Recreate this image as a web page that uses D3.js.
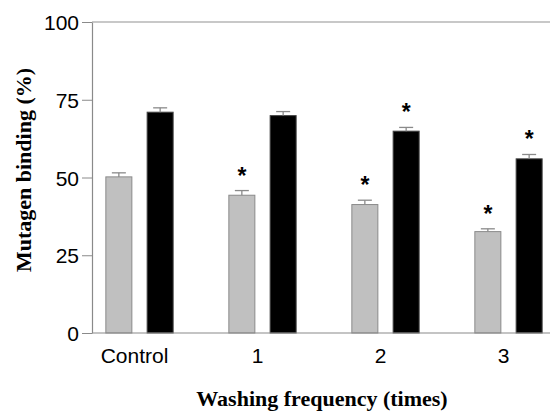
<!DOCTYPE html>
<html>
<head>
<meta charset="utf-8">
<script src="https://cdn.jsdelivr.net/npm/d3@7"></script>
<style>
  html, body { margin: 0; padding: 0; background: #fff; }
  svg { display: block; }
</style>
</head>
<body>
<svg id="chart" width="550" height="412"></svg>
<script>
// ---- data ----
const categories = ["Control", "1", "2", "3"];
const seriesNames = ["gray", "black"];
const grayValues = [50.2, 44.3, 41.3, 32.6];
const grayErrors = [1.3, 1.5, 1.4, 0.9];
const graySignificant = [false, true, true, true];
const blackValues = [71.0, 69.9, 64.9, 56.0];
const blackErrors = [1.4, 1.3, 1.2, 1.4];
const blackSignificant = [false, false, true, true];
const yTicks = [0, 25, 50, 75, 100];

// ---- layout ----
const svg = d3.select("#chart");
const mLeft = 92, mRight = 550, mTop = 22, mBottom = 333;

const y = d3.scaleLinear().domain([0, 100]).range([mBottom, mTop]);
const x0 = d3.scaleBand().domain(categories).range([78, 570]).paddingInner(0).paddingOuter(0);
const x1 = d3.scaleBand().domain(seriesNames).range([-34.15, 34.15]).paddingInner(0.346).paddingOuter(0);

const styles = {
  gray: { fill: "#c0c0c0", stroke: "#8a8a8a" },
  black: { fill: "#000000", stroke: "#444444" }
};

const rows = [];
categories.forEach((c, i) => {
  rows.push({ cat: c, s: "gray", v: grayValues[i], e: grayErrors[i], sig: graySignificant[i] });
  rows.push({ cat: c, s: "black", v: blackValues[i], e: blackErrors[i], sig: blackSignificant[i] });
});

// frame line at top
svg.append("line").attr("x1", mLeft).attr("x2", mRight).attr("y1", mTop).attr("y2", mTop)
  .attr("stroke", "#c8c8c8").attr("stroke-width", 2);

// y axis
const yAxis = svg.append("g").attr("transform", `translate(${mLeft},0)`)
  .call(d3.axisLeft(y).tickValues(yTicks).tickSize(10).tickPadding(3).tickSizeOuter(0));
yAxis.select(".domain").attr("stroke", "#8a8a8a").attr("stroke-width", 1.2);
yAxis.selectAll(".tick line").attr("stroke", "#8a8a8a");
yAxis.selectAll(".tick text").attr("fill", "#000").attr("font-family", "Liberation Sans, Arial, sans-serif")
  .attr("font-size", 21).attr("dy", "0.36em");

// bars
const bx = d => x0(d.cat) + x0.bandwidth() / 2 + x1(d.s);
svg.append("g").selectAll("rect").data(rows).join("rect")
  .attr("x", d => bx(d) + 0.5)
  .attr("y", d => y(d.v))
  .attr("width", x1.bandwidth() - 1)
  .attr("height", d => y(0) - y(d.v))
  .attr("fill", d => styles[d.s].fill)
  .attr("stroke", d => styles[d.s].stroke)
  .attr("stroke-width", 1);

// error bars
const eg = svg.append("g").attr("stroke", "#8a8a8a").attr("stroke-width", 1.3);
rows.forEach(d => {
  const cx = bx(d) + x1.bandwidth() / 2;
  eg.append("line").attr("x1", cx).attr("x2", cx).attr("y1", y(d.v)).attr("y2", y(d.v + d.e));
  eg.append("line").attr("x1", cx - 7).attr("x2", cx + 7).attr("y1", y(d.v + d.e)).attr("y2", y(d.v + d.e));
});

// significance asterisks
svg.append("g").selectAll("text").data(rows.filter(d => d.sig)).join("text")
  .attr("x", d => bx(d) + x1.bandwidth() / 2)
  .attr("y", d => y(d.v + d.e) - 7)
  .attr("text-anchor", "middle")
  .attr("font-family", "Liberation Sans, Arial, sans-serif")
  .attr("font-weight", "bold")
  .attr("font-size", 23)
  .text("*");

// x axis
const xAxis = svg.append("g").attr("transform", `translate(0,${mBottom})`)
  .call(d3.axisBottom(x0).tickSize(0).tickPadding(15));
xAxis.select(".domain").remove();
svg.append("line").attr("x1", mLeft).attr("x2", mRight).attr("y1", mBottom).attr("y2", mBottom)
  .attr("stroke", "#8a8a8a").attr("stroke-width", 1.2);
xAxis.selectAll(".tick text").attr("fill", "#000").attr("font-family", "Liberation Sans, Arial, sans-serif")
  .attr("font-size", 21).attr("dx", -5);

// axis titles
svg.append("text")
  .attr("transform", "translate(31,170) rotate(-90)")
  .attr("text-anchor", "middle")
  .attr("font-family", "Liberation Serif, Times New Roman, serif")
  .attr("font-weight", "bold")
  .attr("font-size", 22)
  .text("Mutagen binding (%)");

svg.append("text")
  .attr("x", 322).attr("y", 406)
  .attr("text-anchor", "middle")
  .attr("font-family", "Liberation Serif, Times New Roman, serif")
  .attr("font-weight", "bold")
  .attr("font-size", 22)
  .text("Washing frequency (times)");
</script>
</body>
</html>
